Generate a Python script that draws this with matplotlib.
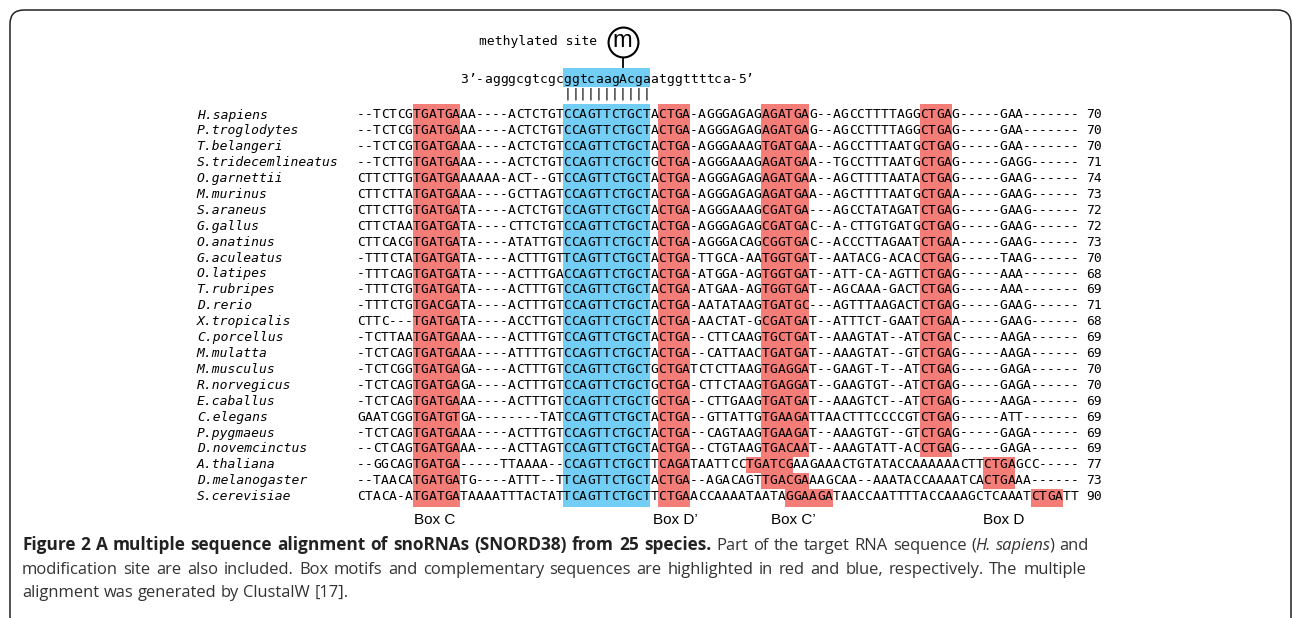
import matplotlib
matplotlib.use('Agg')
import matplotlib.pyplot as plt
from matplotlib.patches import Rectangle, FancyBboxPatch
from matplotlib.transforms import IdentityTransform

species = ['H.sapiens', 'P.troglodytes', 'T.belangeri', 'S.tridecemlineatus', 'O.garnettii',
           'M.murinus', 'S.araneus', 'G.gallus', 'O.anatinus', 'G.aculeatus', 'O.latipes',
           'T.rubripes', 'D.rerio', 'X.tropicalis', 'C.porcellus', 'M.mulatta', 'M.musculus',
           'R.norvegicus', 'E.caballus', 'C.elegans', 'P.pygmaeus', 'D.novemcinctus',
           'A.thaliana', 'D.melanogaster', 'S.cerevisiae']

sequences = [
    '--TCTCGTGATGAAA----ACTCTGTCCAGTTCTGCTACTGA-AGGGAGAGAGATGAG--AGCCTTTTAGGCTGAG-----GAA-------',
    '--TCTCGTGATGAAA----ACTCTGTCCAGTTCTGCTACTGA-AGGGAGAGAGATGAG--AGCCTTTTAGGCTGAG-----GAA-------',
    '--TCTCGTGATGAAA----ACTCTGTCCAGTTCTGCTACTGA-AGGGAAAGTGATGAA--AGCCTTTAATGCTGAG-----GAA-------',
    '--TCTTGTGATGAAA----ACTCTGTCCAGTTCTGCTGCTGA-AGGGAAAGAGATGAA--TGCCTTTAATGCTGAG-----GAGG------',
    'CTTCTTGTGATGAAAAAA-ACT--GTCCAGTTCTGCTACTGA-AGGGAGAGAGATGAA--AGCTTTTAATACTGAG-----GAAG------',
    'CTTCTTATGATGAAA----GCTTAGTCCAGTTCTGCTACTGA-AGGGAGAGAGATGAA--AGCTTTTAATGCTGAA-----GAAG------',
    'CTTCTTGTGATGATA----ACTCTGTCCAGTTCTGCTACTGA-AGGGAAAGCGATGA---AGCCTATAGATCTGAG-----GAAG------',
    'CTTCTAATGATGATA----CTTCTGTCCAGTTCTGCTACTGA-AGGGAGAGCGATGAC--A-CTTGTGATGCTGAG-----GAAG------',
    'CTTCACGTGATGATA----ATATTGTCCAGTTCTGCTACTGA-AGGGACAGCGGTGAC--ACCCTTAGAATCTGAA-----GAAG------',
    '-TTTCTATGATGATA----ACTTTGTTCAGTTCTGCTACTGA-TTGCA-AATGGTGAT--AATACG-ACACCTGAG-----TAAG------',
    '-TTTCAGTGATGATA----ACTTTGACCAGTTCTGCTACTGA-ATGGA-AGTGGTGAT--ATT-CA-AGTTCTGAG-----AAA-------',
    '-TTTCTGTGATGATA----ACTTTGTCCAGTTCTGCTACTGA-ATGAA-AGTGGTGAT--AGCAAA-GACTCTGAG-----AAA-------',
    '-TTTCTGTGACGATA----ACTTTGTCCAGTTCTGCTACTGA-AATATAAGTGATGC---AGTTTAAGACTCTGAG-----GAAG------',
    'CTTC---TGATGATA----ACCTTGTCCAGTTCTGCTACTGA-AACTAT-GCGATGAT--ATTTCT-GAATCTGAA-----GAAG------',
    '-TCTTAATGATGAAA----ACTTTGTCCAGTTCTGCTACTGA--CTTCAAGTGCTGAT--AAAGTAT--ATCTGAC-----AAGA------',
    '-TCTCAGTGATGAAA----ATTTTGTCCAGTTCTGCTACTGA--CATTAACTGATGAT--AAAGTAT--GTCTGAG-----AAGA------',
    '-TCTCGGTGATGAGA----ACTTTGTCCAGTTCTGCTGCTGATCTCTTAAGTGAGGAT--GAAGT-T--ATCTGAG-----GAGA------',
    '-TCTCAGTGATGAGA----ACTTTGTCCAGTTCTGCTGCTGA-CTTCTAAGTGAGGAT--GAAGTGT--ATCTGAG-----GAGA------',
    '-TCTCAGTGATGAAA----ACTTTGTCCAGTTCTGCTGCTGA--CTTGAAGTGATGAT--AAAGTCT--ATCTGAG-----AAGA------',
    'GAATCGGTGATGTGA--------TATCCAGTTCTGCTACTGA--GTTATTGTGAAGATTAACTTTCCCCGTCTGAG-----ATT-------',
    '-TCTCAGTGATGAAA----ACTTTGTCCAGTTCTGCTACTGA--CAGTAAGTGAAGAT--AAAGTGT--GTCTGAG-----GAGA------',
    '--CTCAGTGATGAAA----ACTTAGTCCAGTTCTGCTACTGA--CTGTAAGTGACAAT--AAAGTATT-ACCTGAG-----GAGA------',
    '--GGCAGTGATGA-----TTAAAA--CCAGTTCTGCTTCAGATAATTCCTGATCGAAGAAACTGTATACCAAAAAACTTCTGAGCC-----',
    '--TAACATGATGATG----ATTT--TTCAGTTCTGCTACTGA--AGACAGTTGACGAAAGCAA--AAATACCAAAATCACTGAAA------',
    'CTACA-ATGATGATAAAATTTACTATTCAGTTCTGCTTCTGAACCAAAATAATAGGAAGATAACCAATTTTACCAAAGCTCAAATCTGATT',
]

lengths = [70, 70, 70, 71, 74, 73, 72, 72, 73, 70, 68, 69, 71, 68, 69, 69, 70, 70, 69, 69, 69, 69, 77, 73, 90]

# first column of each highlighted block, per species
blue_start = [26] * 25
box_c_start = [7] * 25
box_dp_start = [38] * 25
box_cp_start = [51] * 22 + [49, 51, 54]
box_d_start = [71] * 22 + [79, 79, 85]

target_left = "3’-agggcgtcgc"
target_mid = "ggtcaagAcga"
target_right = "atggttttca-5’"

box_labels = ['Box C', 'Box D’', 'Box C’', 'Box D']
box_label_x = [9.8, 40.2, 55.0, 81.5]

caption_bold = 'Figure 2 A multiple sequence alignment of snoRNAs (SNORD38) from 25 species.'
caption_1 = 'Part of the target RNA sequence ('
caption_species = 'H. sapiens'
caption_1b = ') and'
caption_2 = ('modification site are also included. Box motifs and complementary sequences are '
             'highlighted in red and blue, respectively. The multiple')
caption_3 = 'alignment was generated by ClustalW [17].'

RED = '#f47d78'
BLUE = '#72cef5'
MONO = 'DejaVu Sans Mono'
FS = 9.4

fig = plt.figure(figsize=(12.92, 6.18), dpi=100)
ax = fig.add_axes([0, 0, 1, 1])
ax.set_xlim(-357 / 7.93, (1292 - 357) / 7.93)
ax.set_ylim((618 - 115) / 15.9, -115 / 15.9)
ax.axis('off')

n = len(sequences)
top, bottom = -0.72, n - 1 + 0.63


def draw_box(starts, width, color):
    # merge consecutive rows with the same start into one rectangle
    r0 = 0
    while r0 < len(starts):
        r1 = r0
        while r1 + 1 < len(starts) and starts[r1 + 1] == starts[r0]:
            r1 += 1
        y0 = top if r0 == 0 else r0 - 0.5
        y1 = bottom if r1 == len(starts) - 1 else r1 + 0.5
        ax.add_patch(Rectangle((starts[r0], y0), width, y1 - y0, fc=color, ec='none', zorder=1))
        r0 = r1 + 1


draw_box(blue_start, 11, BLUE)
draw_box(box_c_start, 6, RED)
draw_box(box_dp_start, 4, RED)
draw_box(box_cp_start, 6, RED)
draw_box(box_d_start, 4, RED)

# alignment
for r, seq in enumerate(sequences):
    ax.text(-20.2, r, species[r], ha='left', va='center', fontsize=FS,
            family=MONO, style='italic', zorder=3)
    for c, ch in enumerate(seq):
        ax.text(c + 0.5, r, ch, ha='center', va='center', fontsize=FS, family=MONO, zorder=3)
    ax.text(92, r, str(lengths[r]), ha='left', va='center', fontsize=FS, family=MONO, zorder=3)

# target RNA on top
y_target = -2.22
c0 = blue_start[0] - len(target_left)
ax.add_patch(Rectangle((blue_start[0], -2.96), len(target_mid), 1.2, fc=BLUE, ec='none', zorder=1))
for i, ch in enumerate(target_left + target_mid + target_right):
    ax.text(c0 + i + 0.5, y_target, ch, ha='center', va='center', fontsize=FS, family=MONO, zorder=3)
for i in range(len(target_mid)):
    ax.text(blue_start[0] + i + 0.5, -1.3, '|', ha='center', va='center', fontsize=FS,
            family=MONO, zorder=3)

# methylated site marker
site_col = blue_start[0] + target_mid.index('A') + 0.5
ax.plot([site_col, site_col], [-3.66, -3.0], color='black', lw=1.3, zorder=2)
ax.plot([site_col], [-4.61], marker='o', ms=21.5, mfc='white', mec='black', mew=1.5, zorder=2)
ax.text(site_col, -4.66, 'm', ha='center', va='center', fontsize=17, family='Liberation Sans', zorder=3)
ax.text(30.3, -4.61, 'methylated site', ha='right', va='center', fontsize=FS, family=MONO)

for lab, x in zip(box_labels, box_label_x):
    ax.text(x, 25.45, lab, ha='center', va='center', fontsize=11, family='Liberation Sans')

# frame
fig.patches.append(FancyBboxPatch((10, -30), 1281, 638, boxstyle='round,pad=0,rounding_size=14',
                                  fill=False, ec='#222222', lw=1.1, transform=IdentityTransform(),
                                  figure=fig))

# caption, justified like the journal layout
CAP = 'Open Sans'
REG = dict(fontsize=11.9, family=CAP, color='#333333')
BOLD = dict(fontsize=12.4, family=CAP, weight='bold', color='#222222')
ITAL = dict(fontsize=11.9, family=CAP, style='italic', color='#333333')
renderer = fig.canvas.get_renderer()


def words_of(text, style):
    return [[(w, style)] for w in text.split()]


def place_line(words, y_px, x_left, x_right=None, space=4.4):
    pieces = []
    widths = []
    for word in words:
        objs = []
        w = 0
        for k, (txt, style) in enumerate(word):
            t = fig.text(0, 1 - y_px / 618, txt, va='baseline', **style)
            tw = t.get_window_extent(renderer).width
            if k < len(word) - 1:
                tw -= 1.2  # tighten joins between mixed-style pieces
            objs.append((t, tw))
            w += tw
        pieces.append(objs)
        widths.append(w)
    if x_right is None:
        gap = space
    else:
        gap = (x_right - x_left - sum(widths)) / (len(words) - 1)
    x = x_left
    for objs, w in zip(pieces, widths):
        xx = x
        for t, tw in objs:
            t.set_x(xx / 1292)
            xx += tw
        x += w + gap


line1 = (words_of(caption_bold, BOLD) + words_of(caption_1[:-1], REG)
         + [[('(', REG), ('H.', ITAL)], [('sapiens', ITAL), (')', REG)]]
         + words_of(caption_1b[1:], REG))
place_line(line1, 550, 22, 1089)
place_line(words_of(caption_2, REG), 574, 22, 1086)
place_line(words_of(caption_3, REG), 597, 22)

fig.savefig('out.png', dpi=100)
